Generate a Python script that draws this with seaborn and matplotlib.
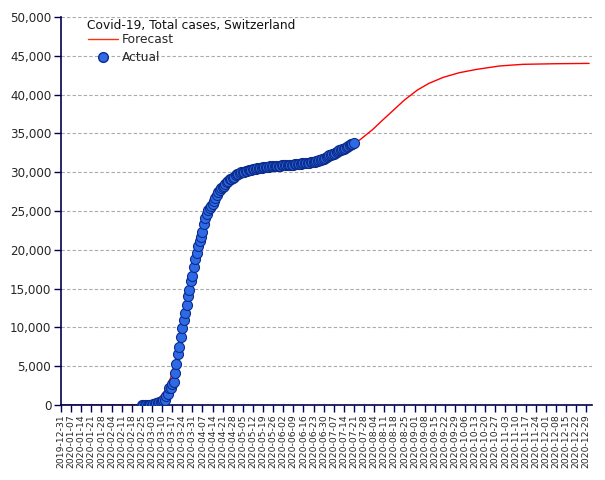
import numpy as np
import pandas as pd
import matplotlib
matplotlib.use("Agg")
import matplotlib.pyplot as plt
import matplotlib.dates as mdates
from matplotlib.lines import Line2D
import seaborn as sns

# ---- data ----
actual_start = "2020-02-25"
actual_values = [
    1, 1, 8, 8, 18, 27, 42, 56, 90, 114, 214, 268, 337, 374, 491, 652, 652, 1139, 1359, 2200,
    2200, 2700, 3028, 4075, 5294, 6575, 7474, 8795, 9877, 10897, 11811, 12928, 14076, 14829,
    15922, 16605, 17768, 18827, 19606, 20505, 21100, 21657, 22253, 23280, 24051, 24551, 25107,
    25415, 25688, 25936, 26336, 26732, 27078, 27404, 27740, 27944, 28063, 28268, 28496, 28677,
    28894, 29061, 29164, 29264, 29407, 29586, 29705, 29817, 29905, 29981, 30009, 30060, 30126,
    30207, 30251, 30305, 30344, 30380, 30413, 30463, 30514, 30572, 30587, 30597, 30618, 30658,
    30694, 30707, 30725, 30736, 30746, 30761, 30776, 30796, 30828, 30845, 30862, 30871, 30874,
    30893, 30913, 30936, 30956, 30965, 30972, 30988, 31011, 31044, 31063, 31094, 31117, 31131,
    31154, 31187, 31200, 31235, 31243, 31292, 31310, 31332, 31376, 31428, 31486, 31555, 31617,
    31652, 31714, 31851, 31967, 32101, 32198, 32268, 32315, 32369, 32498, 32586, 32690, 32817,
    32883, 32946, 33016, 33148, 33290, 33382, 33492, 33591, 33634, 33742,
]
forecast_dates = [
    "2019-12-31", "2020-02-17", "2020-02-24", "2020-03-02", "2020-03-07", "2020-03-12",
    "2020-03-16", "2020-03-20", "2020-03-24", "2020-03-28", "2020-04-01", "2020-04-05",
    "2020-04-09", "2020-04-13", "2020-04-17", "2020-04-21", "2020-04-28", "2020-05-05",
    "2020-05-15", "2020-05-31", "2020-06-15", "2020-06-30", "2020-07-10", "2020-07-21",
    "2020-07-25", "2020-08-03", "2020-08-10", "2020-08-18", "2020-08-25", "2020-09-03",
    "2020-09-11", "2020-09-21", "2020-10-02", "2020-10-14", "2020-10-30", "2020-11-15",
    "2020-12-08", "2020-12-31",
]
forecast_values = [
    0, 0, 20, 200, 640, 1800, 3500, 6200, 9500, 13200, 17200, 20800,
    23800, 25900, 27300, 28300, 29400, 30000, 30500, 30850, 31150, 31750, 32700, 33700,
    34150, 35500, 36730, 38100, 39300, 40590, 41450, 42230, 42820, 43250, 43690, 43900,
    43980, 44020,
]
title_text = "Covid-19, Total cases, Switzerland"
legend_labels = ["Forecast", "Actual"]

actual_df = pd.DataFrame({
    "date": pd.date_range(actual_start, periods=len(actual_values), freq="D"),
    "cases": actual_values,
})
forecast_df = pd.DataFrame({"date": pd.to_datetime(forecast_dates), "cases": forecast_values})

# ---- figure ----
sns.set_style("white")
plt.rcParams["font.family"] = ["DejaVu Sans"]
W, H = 605, 480
fig = plt.figure(figsize=(W / 100, H / 100), dpi=100)
ax = fig.add_axes([61 / W, 1 - 405 / H, (592 - 61) / W, (405 - 17) / H])

navy = "#000050"
sns.lineplot(data=forecast_df, x="date", y="cases", ax=ax, color="#ff0000", lw=1.0, zorder=2)
sns.scatterplot(data=actual_df, x="date", y="cases", ax=ax, s=52, color="#2f6ae6",
                edgecolor="#0b2c8c", linewidth=0.8, zorder=3)

ax.set_xlim(pd.Timestamp("2019-12-31"), pd.Timestamp("2021-01-02"))
ax.set_ylim(0, 50000)
ax.set_xlabel("")
ax.set_ylabel("")

ax.yaxis.set_major_locator(matplotlib.ticker.MultipleLocator(5000))
ax.yaxis.set_major_formatter(matplotlib.ticker.FuncFormatter(lambda v, p: f"{int(v):,}"))
ticks = pd.date_range("2019-12-31", "2020-12-29", freq="7D")
ax.set_xticks(ticks)
ax.set_xticklabels([t.strftime("%Y-%m-%d") for t in ticks], rotation=90, fontsize=6.7)
ax.tick_params(axis="y", labelsize=8.6, length=5, width=1, color=navy, direction="out", pad=2)
ax.tick_params(axis="x", length=5, width=1, color=navy, direction="out", pad=2)
ax.tick_params(left=True, bottom=True)

ax.grid(axis="y", color="#aaaaaa", linestyle=(0, (3, 2)), linewidth=0.8)
ax.grid(axis="x", visible=False)
for s in ["top", "right"]:
    ax.spines[s].set_visible(False)
for s in ["left", "bottom"]:
    ax.spines[s].set_color(navy)
    ax.spines[s].set_linewidth(1.2)

fig.text(87 / W, 1 - 25 / H, title_text, fontsize=8.8, ha="left", va="center", color="#111111")

handles = [
    Line2D([], [], color="#ff3010", lw=1.0),
    Line2D([], [], marker="o", linestyle="", markersize=7, markerfacecolor="#2f6ae6",
           markeredgecolor="#0b2c8c"),
]
leg = ax.legend(handles, legend_labels, loc="upper left",
                bbox_to_anchor=(88 / W, 1 - 33 / H), bbox_transform=fig.transFigure,
                frameon=False, fontsize=8.8, handlelength=2.45, handletextpad=0.3,
                labelspacing=0.42, borderaxespad=0.0, borderpad=0.0)

fig.savefig("out.png", dpi=100)
